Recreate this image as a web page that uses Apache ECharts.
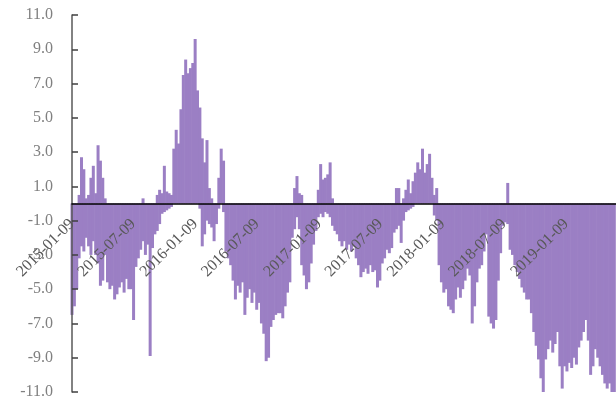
<!DOCTYPE html>
<html>
<head>
<meta charset="utf-8">
<script src="https://cdn.jsdelivr.net/npm/echarts@6.0.0/dist/echarts.min.js"></script>
<style>
html, body { margin: 0; padding: 0; background: #fff; }
#main { width: 616px; height: 398px; }
</style>
</head>
<body>
<div id="main"></div>
<script>
// weekly samples, first one on 2015-01-09
var firstWeek = [2015, 0, 9];
var stepDays = 7;

// upper part of each week (above zero)
var upVals = [
	0, 0, 0, 0.5, 2.7, 2.0, 0.3, 0.5, 1.5, 2.2,
	0.6, 3.4, 2.5, 1.5, 0.3, 0, 0, 0, 0, 0,
	0, 0, 0, 0, 0, 0, 0, 0, 0, 0,
	0.3, 0, 0, 0, 0, 0, 0.5, 0.8, 0.6, 2.2,
	0.7, 0.6, 0.5, 3.2, 4.3, 3.5, 5.5, 7.5, 8.4, 7.6,
	7.9, 8.2, 9.6, 6.6, 5.6, 3.8, 2.4, 3.7, 0.9, 0.3,
	0, 0, 1.5, 3.2, 2.5, 0, 0, 0, 0, 0,
	0, 0, 0, 0, 0, 0, 0, 0, 0, 0,
	0, 0, 0, 0, 0, 0, 0, 0, 0, 0,
	0, 0, 0, 0, 0.9, 1.6, 0.6, 0.5, 0, 0,
	0, 0, 0, 0, 0.8, 2.3, 1.4, 1.5, 1.7, 2.4,
	0.3, 0, 0, 0, 0, 0, 0, 0, 0, 0,
	0, 0, 0, 0, 0, 0, 0, 0, 0, 0,
	0, 0, 0, 0, 0, 0, 0, 0.9, 0.9, 0,
	0.3, 0.8, 1.4, 0.6, 1.3, 1.8, 2.4, 2.0, 3.2, 1.8,
	2.3, 2.9, 1.5, 0.5, 0.9, 0, 0, 0, 0, 0,
	0, 0, 0, 0, 0, 0, 0, 0, 0, 0,
	0, 0, 0, 0, 0, 0, 0, 0, 0, 0,
	0, 0, 0, 0, 1.2, 0, 0, 0, 0, 0,
	0, 0, 0, 0, 0, 0, 0, 0, 0, 0,
	0, 0, 0, 0, 0, 0, 0, 0, 0, 0,
	0, 0, 0, 0, 0, 0, 0, 0, 0, 0,
	0, 0, 0, 0, 0, 0, 0, 0, 0, 0
];

// lower part of each week (below zero)
var downVals = [
	-6.5, -6.0, -5.0, -3.2, -2.5, -2.8, -2.0, -2.5, -3.0, -2.2,
	-3.0, -3.5, -4.8, -4.5, -3.0, -4.6, -5.0, -4.8, -5.6, -5.3,
	-4.9, -4.6, -5.2, -4.4, -5.0, -5.0, -6.8, -3.7, -3.2, -2.7,
	-2.2, -3.0, -2.4, -8.9, -2.6, -1.8, -1.6, -1.2, -0.6, -0.5,
	-0.4, -0.3, -0.2, 0, 0, 0, 0, 0, 0, 0,
	0, 0, 0, 0, -0.3, -2.5, -1.8, -1.0, -1.2, -1.4,
	-2.2, -1.2, -0.3, 0, -0.5, -2.8, -3.2, -3.6, -4.5, -5.6,
	-4.8, -5.2, -4.6, -6.5, -5.5, -5.0, -5.8, -5.2, -6.2, -5.8,
	-7.0, -7.6, -9.2, -9.0, -7.2, -6.8, -6.5, -6.4, -6.4, -6.7,
	-6.0, -5.2, -4.6, -2.0, -1.5, -0.8, -1.5, -3.6, -4.2, -5.0,
	-4.6, -3.5, -2.4, -1.6, -0.8, -0.6, -0.8, -0.5, -0.6, -0.8,
	-1.3, -1.6, -1.8, -2.2, -2.5, -2.2, -2.7, -2.4, -2.8, -2.5,
	-3.2, -3.6, -4.3, -4.0, -3.8, -4.1, -3.6, -4.0, -3.9, -4.9,
	-4.5, -3.5, -3.2, -2.7, -2.9, -2.6, -1.7, -1.5, -1.3, -2.3,
	-1.0, -0.5, -0.4, -0.3, -0.2, 0, 0, 0, 0, 0,
	0, 0, 0, -0.7, -1.0, -3.6, -4.6, -5.2, -5.0, -6.0,
	-6.2, -6.4, -5.6, -4.9, -5.5, -5.0, -4.5, -3.8, -4.2, -7.0,
	-6.0, -4.6, -3.8, -3.6, -2.8, -1.8, -6.6, -7.0, -7.3, -6.8,
	-4.5, -2.9, -1.3, -1.1, -1.2, -2.7, -3.0, -3.6, -4.0, -4.4,
	-4.9, -5.2, -5.6, -5.6, -6.4, -7.5, -8.3, -9.1, -10.2, -11.0,
	-9.1, -8.5, -8.0, -8.7, -8.2, -7.5, -9.5, -10.8, -9.5, -9.8,
	-9.3, -9.6, -9.0, -9.4, -8.4, -8.0, -7.5, -6.8, -8.0, -10.0,
	-9.5, -8.5, -9.0, -9.5, -10.0, -10.5, -10.8, -10.5, -11.0, -11.0
];

var labelDates = [
	[2015, 0, 9], [2015, 6, 9], [2016, 0, 9], [2016, 6, 9], [2017, 0, 9],
	[2017, 6, 9], [2018, 0, 9], [2018, 6, 9], [2019, 0, 9]
];
var axisStart = [2015, 0, 9];
var axisEnd = [2019, 5, 5];

function toTime(d) {
	return new Date(d[0], d[1], d[2]).getTime();
}

function pad(n) {
	return n < 10 ? '0' + n : '' + n;
}

var upData = [], downData = [];
for (var i = 0; i < downVals.length; i++) {
	var t = new Date(firstWeek[0], firstWeek[1], firstWeek[2] + i * stepDays).getTime();
	upData.push([t, upVals[i]]);
	downData.push([t, downVals[i]]);
}

var gridTop = 15, gridBottom = 6;
// x axis sits on the zero line, half way down the grid
var zeroOffset = -(398 - gridTop - gridBottom) / 2;

var myChart = echarts.init(document.getElementById('main'));

myChart.setOption({
	animation : false,
	grid : {
		left : 72,
		right : 0,
		top : gridTop,
		bottom : gridBottom,
		containLabel : false,
		outerBoundsMode : 'none'
	},
	xAxis : {
		type : 'value',
		z : 5,
		min : toTime(axisStart),
		max : toTime(axisEnd),
		offset : zeroOffset,
		axisLine : {
			onZero : false,
			lineStyle : { color : '#000', width : 1.5 }
		},
		axisTick : { show : false },
		splitLine : { show : false },
		axisLabel : {
			customValues : labelDates.map(toTime),
			hideOverlap : false,
			rotate : 45,
			margin : 18,
			color : '#595959',
			fontFamily : 'Liberation Serif',
			fontSize : 16,
			formatter : function(v) {
				var d = new Date(v);
				return d.getFullYear() + '-' + pad(d.getMonth() + 1) + '-' + pad(d.getDate());
			}
		}
	},
	yAxis : {
		type : 'value',
		z : 5,
		min : -11,
		max : 11,
		interval : 2,
		axisLine : {
			show : true,
			lineStyle : { color : '#595959', width : 1.5 }
		},
		axisTick : {
			show : true,
			inside : true,
			length : 6,
			lineStyle : { color : '#404040', width : 1.5 }
		},
		splitLine : { show : false },
		axisLabel : {
			margin : 19,
			color : '#808080',
			fontFamily : 'Liberation Serif',
			fontSize : 16,
			formatter : function(v) {
				return v.toFixed(1);
			}
		}
	},
	series : [ {
		type : 'bar',
		data : downData,
		barWidth : 3,
		barGap : '-100%',
		clip : true,
		itemStyle : { color : '#9b7fc4' }
	}, {
		type : 'bar',
		data : upData,
		barWidth : 3,
		barGap : '-100%',
		clip : true,
		itemStyle : { color : '#9b7fc4' }
	} ]
});
</script>
</body>
</html>
